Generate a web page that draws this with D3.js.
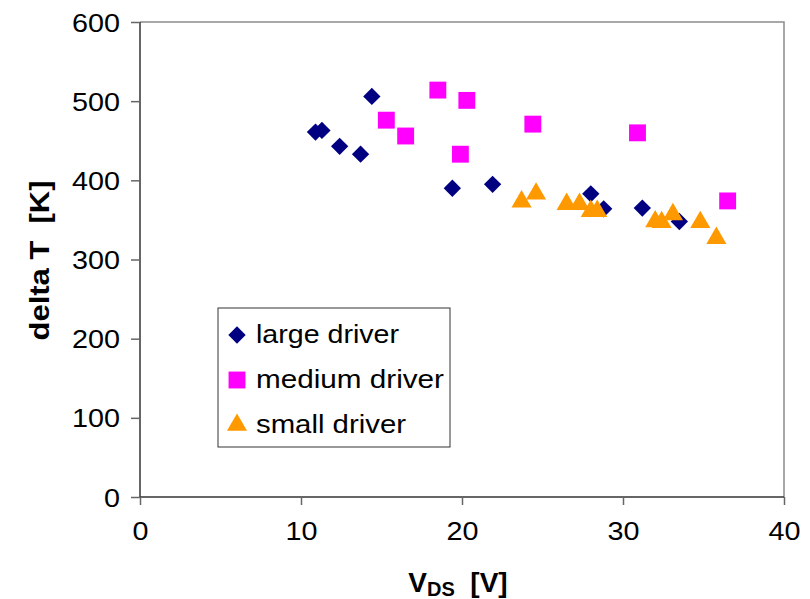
<!DOCTYPE html>
<html>
<head>
<meta charset="utf-8">
<script src="https://cdn.jsdelivr.net/npm/d3@7"></script>
<style>
  body { margin: 0; background: #fff; }
  text { font-family: "Liberation Sans", Arial, sans-serif; fill: #000; }
</style>
</head>
<body>
<svg width="810" height="599"></svg>
<script>
// values
var largeX = [10.9, 11.3, 12.4, 13.7, 14.4, 19.4, 21.9, 28.0, 28.8, 31.2, 33.5];
var largeY = [461, 463, 443, 433, 506, 390, 395, 383, 364, 365, 348];

var mediumX = [15.3, 16.5, 18.5, 19.9, 20.3, 24.4, 30.9, 36.5];
var mediumY = [476, 456, 514, 433, 501, 471, 460, 374];

var smallX = [23.7, 24.6, 26.5, 27.3, 28.0, 28.4, 32.0, 32.4, 33.1, 34.8, 35.8];
var smallY = [373, 383, 370, 370, 361, 361, 348, 347, 357, 347, 327];

var seriesNames = ["large driver", "medium driver", "small driver"];
var xTicks = [0, 10, 20, 30, 40];
var yTicks = [0, 100, 200, 300, 400, 500, 600];

var svg = d3.select("svg"),
    pLeft = 140, pRight = 784, pTop = 22, pBottom = 497;

var x = d3.scaleLinear().domain([0, 40]).range([pLeft, pRight]);
var y = d3.scaleLinear().domain([0, 600]).range([pBottom, pTop]);

var series = [
  {name: seriesNames[0], xs: largeX, ys: largeY, color: "#000080", shape: "diamond"},
  {name: seriesNames[1], xs: mediumX, ys: mediumY, color: "#ff00ff", shape: "square"},
  {name: seriesNames[2], xs: smallX, ys: smallY, color: "#ff9900", shape: "triangle"}
];

function markerPath(shape) {
  if (shape == "diamond") return d3.symbol().type(d3.symbolSquare).size(150)();
  if (shape == "square") return d3.symbol().type(d3.symbolSquare).size(285)();
  return d3.symbol().type(d3.symbolTriangle).size(175)();
}
function markerRot(shape) { return shape == "diamond" ? " rotate(45)" : ""; }

// plot frame (top and right in grey)
svg.append("path")
  .attr("d", "M" + pLeft + "," + pTop + "H" + pRight + "V" + pBottom)
  .attr("fill", "none")
  .attr("stroke", "#8c8c8c")
  .attr("stroke-width", 1.5);

// axes
var xAxis = svg.append("g")
  .attr("transform", "translate(0," + pBottom + ")")
  .call(d3.axisBottom(x).tickValues(xTicks).tickSize(8).tickPadding(17));
var yAxis = svg.append("g")
  .attr("transform", "translate(" + pLeft + ",0)")
  .call(d3.axisLeft(y).tickValues(yTicks).tickSize(9).tickPadding(11));

[xAxis, yAxis].forEach(function(a) {
  a.select(".domain").attr("stroke", "#333").attr("stroke-width", 1.5);
  a.selectAll(".tick line").attr("stroke", "#666").attr("stroke-width", 1.5);
  a.selectAll(".tick text")
    .style("font-family", "'Liberation Sans', Arial, sans-serif")
    .style("font-size", "26px")
    .attr("fill", "#000")
    .attr("lengthAdjust", "spacingAndGlyphs")
    .attr("textLength", function(d) { return String(d).length * 16; });
});
xAxis.select(".domain").attr("d", "M" + pLeft + ",0H" + pRight);
yAxis.select(".domain").attr("d", "M0," + pTop + "V" + pBottom);
yAxis.selectAll(".tick text").attr("dy", "0.35em");

// markers
series.forEach(function(s) {
  var pts = s.xs.map(function(v, i) { return [v, s.ys[i]]; });
  svg.append("g").selectAll("path")
    .data(pts)
    .enter().append("path")
    .attr("d", markerPath(s.shape))
    .attr("transform", function(d) { return "translate(" + x(d[0]) + "," + y(d[1]) + ")" + markerRot(s.shape); })
    .attr("fill", s.color);
});

// axis titles
svg.append("text")
  .attr("transform", "translate(49," + ((pTop + pBottom) / 2 + 1) + ") rotate(-90)")
  .attr("text-anchor", "middle")
  .style("font-size", "28px")
  .style("font-weight", "bold")
  .style("white-space", "pre")
  .attr("textLength", 160)
  .attr("lengthAdjust", "spacingAndGlyphs")
  .text("delta T  [K]");

var xt = svg.append("text")
  .attr("x", (pLeft + pRight) / 2 - 4)
  .attr("y", 592)
  .attr("text-anchor", "middle")
  .style("font-size", "28px")
  .style("font-weight", "bold")
  .style("white-space", "pre");
xt.append("tspan").text("V");
xt.append("tspan").style("font-size", "20px").attr("dy", 4).text("DS");
xt.append("tspan").attr("dy", -4).text("  [V]");

// legend
var legend = svg.append("g").attr("transform", "translate(218,308)");
legend.append("rect")
  .attr("width", 232).attr("height", 139)
  .attr("fill", "#fff")
  .attr("stroke", "#333")
  .attr("stroke-width", 1);

var legendWidths = [143, 188, 150];
var rowY = d3.scalePoint().domain(seriesNames).range([26, 116]);
series.forEach(function(s, i) {
  var g = legend.append("g").attr("transform", "translate(0," + rowY(s.name) + ")");
  g.append("path")
    .attr("d", markerPath(s.shape))
    .attr("transform", "translate(19,1)" + markerRot(s.shape))
    .attr("fill", s.color);
  g.append("text")
    .attr("x", 38)
    .attr("dy", "0.35em")
    .style("font-size", "26px")
    .attr("textLength", legendWidths[i])
    .attr("lengthAdjust", "spacingAndGlyphs")
    .text(s.name);
});
</script>
</body>
</html>
